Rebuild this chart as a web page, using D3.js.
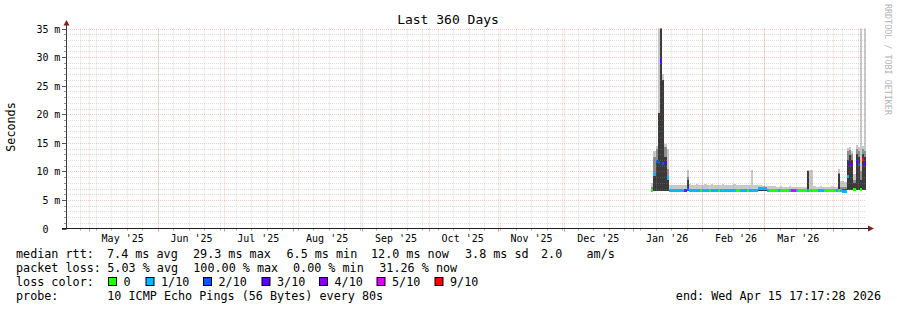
<!DOCTYPE html>
<html><head><meta charset="utf-8">
<script src="https://cdn.jsdelivr.net/npm/d3@7"></script>
<style>
html,body{margin:0;padding:0;background:#fff;}
svg{display:block;}
text{font-family:"DejaVu Sans Mono",monospace;white-space:pre;fill:#000;}
</style></head><body>
<svg id="chart" width="897" height="310"></svg>
<script>
// ---------- data ----------
const chartTitle = "Last 360 Days";
const yAxisTitle = "Seconds";
const credit = "RRDTOOL / TOBI OETIKER";
const yTickValues = [0, 5, 10, 15, 20, 25, 30, 35];
const yTickNumbers = ["0", "5", "10", "15", "20", "25", "30", "35"];
const yTickUnit = "m";
const startTime = "2025-04-20T17:17:28Z";
const endTime = "2026-04-15T17:17:28Z";
const dataStart = "2026-01-09T00:00:00Z"; // first day with measurements, one value per day after it

const medianMs = [
  6.7, 9.4, 11.8, 11.5, 29.2, 11.3, 11.5, 8.9, 6.7, 6.7,
  6.7, 6.7, 6.7, 6.7, 6.7, 6.7, 6.8, 6.7, 6.7, 6.7,
  6.7, 6.7, 6.7, 6.7, 6.7, 6.7, 6.7, 6.7, 6.7, 6.7,
  6.7, 6.7, 6.7, 6.7, 6.7, 6.7, 6.7, 6.7, 6.7, 6.7,
  6.7, 6.7, 6.7, 6.7, 6.7, 6.7, 6.7, 6.7, 7.0, 7.0,
  7.0, 7.0, 6.7, 6.7, 6.7, 6.7, 6.7, 6.7, 6.7, 6.7,
  6.7, 6.7, 6.7, 6.7, 6.7, 6.7, 6.7, 6.7, 6.7, 6.7,
  6.7, 6.7, 6.7, 6.7, 6.7, 6.7, 6.7, 6.7, 6.7, 6.7,
  6.7, 6.7, 6.7, 6.7, 6.7, 6.7, 6.5, 6.5, 9.1, 11.4,
  11.2, 6.9, 11.7, 11.2, 6.8, 12.1, 11.4
];
const lossCount = [
  0, 1, 2, 2, 3, 2, 3, 1, 1, 1,
  1, 1, 1, 1, 1, 4, 2, 1, 1, 1,
  1, 1, 0, 1, 1, 1, 0, 1, 1, 1,
  0, 1, 1, 1, 1, 1, 1, 1, 0, 0,
  1, 1, 1, 0, 1, 1, 1, 1, 1, 1,
  1, 1, 1, 0, 0, 0, 0, 1, 0, 0,
  0, 0, 1, 5, 5, 1, 0, 0, 0, 0,
  1, 0, 0, 0, 0, 1, 1, 1, 0, 0,
  0, 0, 0, 1, 0, 1, 1, 1, 1, 3,
  3, 0, 3, 2, 0, 9, 3
];
const smokeMin = [
  6.6, 6.6, 6.6, 6.6, 6.6, 6.6, 6.6, 6.6, 6.5, 6.5,
  6.5, 6.5, 6.5, 6.5, 6.5, 6.5, 6.5, 6.5, 6.5, 6.5,
  6.5, 6.5, 6.5, 6.5, 6.5, 6.5, 6.5, 6.5, 6.5, 6.5,
  6.5, 6.5, 6.5, 6.5, 6.5, 6.5, 6.5, 6.5, 6.5, 6.5,
  6.5, 6.5, 6.5, 6.5, 6.5, 6.5, 6.5, 6.5, 6.5, 6.5,
  6.5, 6.5, 6.5, 6.5, 6.5, 6.5, 6.5, 6.5, 6.5, 6.5,
  6.5, 6.5, 6.5, 6.5, 6.5, 6.5, 6.5, 6.5, 6.5, 6.5,
  6.5, 6.5, 6.5, 6.5, 6.5, 6.5, 6.5, 6.5, 6.5, 6.5,
  6.5, 6.5, 6.5, 6.5, 6.5, 6.5, 6.5, 6.5, 6.7, 6.7,
  6.7, 6.7, 6.7, 6.7, 6.7, 6.7, 6.7
];
// darkest smoke band (pings closest to the median)
const smokeDark = [
  6.9, 9.5, 12.0, 20.3, 40, 26, 12.5, 8.5, 6.9, 6.9,
  6.9, 6.9, 6.9, 6.9, 6.9, 6.9, 8.5, 6.9, 6.9, 6.9,
  6.9, 6.9, 6.9, 6.9, 6.9, 6.9, 6.9, 6.9, 6.9, 6.9,
  6.9, 6.9, 6.9, 6.9, 6.9, 6.9, 6.9, 6.9, 6.9, 6.9,
  6.9, 6.9, 6.9, 6.9, 6.9, 6.9, 6.9, 6.9, 6.9, 6.9,
  6.9, 6.9, 6.9, 6.9, 6.9, 6.9, 6.9, 6.9, 6.9, 6.9,
  6.9, 6.9, 6.9, 6.9, 6.9, 6.9, 6.9, 6.9, 6.9, 6.9,
  10.0, 6.9, 6.9, 6.9, 6.9, 6.9, 6.9, 6.9, 6.9, 6.9,
  6.9, 6.9, 6.9, 6.9, 9.5, 6.9, 6.9, 6.9, 12.0, 12.8,
  12.0, 8.0, 13.0, 12.5, 8.5, 13.0, 12.5
];
// middle smoke band
const smokeMid = [
  7.2, 12.5, 14.0, 14.3, 14.3, 14.3, 14.3, 10.5, 6.9, 6.9,
  6.9, 6.9, 6.9, 6.9, 6.9, 6.9, 9.0, 6.9, 6.9, 6.9,
  6.9, 6.9, 6.9, 6.9, 6.9, 6.9, 6.9, 6.9, 6.9, 6.9,
  6.9, 6.9, 6.9, 6.9, 6.9, 6.9, 6.9, 6.9, 6.9, 6.9,
  6.9, 6.9, 6.9, 6.9, 6.9, 6.9, 6.9, 6.9, 6.9, 6.9,
  6.9, 6.9, 6.9, 6.9, 6.9, 6.9, 6.9, 6.9, 6.9, 6.9,
  6.9, 6.9, 6.9, 6.9, 6.9, 6.9, 6.9, 6.9, 6.9, 6.9,
  10.0, 6.9, 6.9, 6.9, 6.9, 6.9, 6.9, 6.9, 6.9, 6.9,
  6.9, 6.9, 6.9, 6.9, 9.8, 7.2, 7.2, 7.2, 13.5, 13.8,
  13.0, 8.5, 14.0, 13.5, 10.0, 14.0, 13.5
];
// outer (lightest) smoke band: highest ping
const smokeMax = [
  7.9, 13.6, 14.5, 40, 40, 27, 14.8, 14.0, 7.6, 7.6,
  7.6, 7.7, 7.6, 7.6, 7.7, 7.6, 10.2, 7.8, 7.7, 7.7,
  7.8, 7.7, 7.7, 7.6, 7.8, 7.7, 7.7, 7.8, 7.7, 7.6,
  7.7, 7.7, 7.8, 7.7, 7.6, 7.7, 7.7, 7.8, 7.7, 7.7,
  7.6, 7.7, 7.7, 7.6, 7.7, 10.3, 7.6, 7.6, 7.6, 7.6,
  7.4, 7.4, 7.5, 7.4, 7.4, 7.4, 7.3, 7.3, 7.4, 7.3,
  7.3, 7.3, 7.4, 7.3, 7.3, 7.3, 7.3, 7.2, 7.3, 7.3,
  10.2, 10.3, 10.3, 7.4, 7.3, 7.3, 7.4, 7.3, 7.3, 7.3,
  7.3, 7.4, 7.3, 7.3, 10.4, 8.3, 8.3, 8.2, 14.1, 14.2,
  13.5, 9.5, 14.6, 14.3, 40, 14.5, 40
];
const lossLegendLabels = ["0", "1/10", "2/10", "3/10", "4/10", "5/10", "9/10"];
const lossLegendColors = ["#26ff00", "#00b8ff", "#0059ff", "#5e00ff", "#7e00ff", "#dd00ff", "#ff0000"];
const lossThresholds = [1, 2, 3, 4, 5, 6];
const rttLegend = ["median rtt:", "7.4 ms avg", "29.3 ms max", "6.5 ms min", "12.0 ms now", "3.8 ms sd", "2.0", "am/s"];
const lossLegend = ["packet loss:", "5.03 % avg", "100.00 % max", "0.00 % min", "31.26 % now"];
const lossColorTitle = "loss color:";
const probeLegend = ["probe:", "10 ICMP Echo Pings (56 Bytes) every 80s"];
const endLabel = "end: Wed Apr 15 17:17:28 2026";

// ---------- layout ----------
const W = 897, H = 310;
const P = {left: 66, right: 866, top: 28.5, bottom: 228.5};
const svg = d3.select("#chart");
svg.append("rect").attr("width", W).attr("height", H).attr("fill", "#fff");

const x = d3.scaleUtc().domain([new Date(startTime), new Date(endTime)]).range([P.left, P.right]);
const y = d3.scaleLinear().domain([0, 35]).range([P.bottom, P.top]);
const lossColor = d3.scaleThreshold().domain(lossThresholds).range(lossLegendColors);
const days = medianMs.map((_, i) => d3.utcDay.offset(new Date(dataStart), i));
const dx0 = i => x(days[i]);
const dw = i => x(d3.utcDay.offset(days[i], 1)) - x(days[i]);

svg.append("defs").append("clipPath").attr("id", "clip")
  .append("rect").attr("x", P.left).attr("y", P.top)
  .attr("width", P.right - P.left).attr("height", P.bottom - P.top);

// smoke
const g = svg.append("g").attr("clip-path", "url(#clip)");
[[smokeMax, "#c9c9c9"], [smokeMid, "#8e8e8e"], [smokeDark, "#3a3a3a"]].forEach(([arr, col]) => {
  g.append("g").selectAll("rect").data(arr).join("rect")
    .attr("x", (d, i) => dx0(i)).attr("width", (d, i) => dw(i))
    .attr("y", d => y(d)).attr("height", (d, i) => Math.max(0, y(smokeMin[i]) - y(d)))
    .attr("fill", col).attr("shape-rendering", "crispEdges");
});
// median colored by loss
g.append("g").selectAll("rect").data(medianMs).join("rect")
  .attr("x", (d, i) => dx0(i)).attr("width", (d, i) => dw(i))
  .attr("y", d => y(d) - 1.5).attr("height", 3)
  .attr("fill", (d, i) => lossColor(lossCount[i])).attr("shape-rendering", "crispEdges");

// grid (drawn on top like rrdtool, semi transparent)
const grid = svg.append("g").attr("stroke-dasharray", "1,1").attr("stroke-width", 1);
const px = v => Math.round(v) + 0.5;
const minorCol = "rgba(143,143,143,0.3)";
const majorCol = "rgba(222,79,79,0.3)";
const minorY = d3.range(1, 35).filter(v => v % 5 !== 0);
grid.selectAll(".hmin").data(minorY).join("line")
  .attr("x1", P.left).attr("x2", P.right).attr("y1", d => px(y(d))).attr("y2", d => px(y(d)))
  .attr("stroke", minorCol);
const weeks = d3.utcSunday.range(new Date(startTime), new Date(endTime));
grid.selectAll(".vmin").data(weeks).join("line")
  .attr("y1", P.top).attr("y2", P.bottom).attr("x1", d => px(x(d))).attr("x2", d => px(x(d)))
  .attr("stroke", minorCol);
const majorY = yTickValues.filter(v => v > 0);
grid.selectAll(".hmaj").data(majorY).join("line")
  .attr("x1", P.left).attr("x2", P.right).attr("y1", d => px(y(d))).attr("y2", d => px(y(d)))
  .attr("stroke", majorCol);
const months = d3.utcMonth.range(new Date(startTime), new Date(endTime));
grid.selectAll(".vmaj").data(months).join("line")
  .attr("y1", P.top).attr("y2", P.bottom).attr("x1", d => px(x(d))).attr("x2", d => px(x(d)))
  .attr("stroke", majorCol);

// axis ticks
const ax = svg.append("g");
ax.selectAll(".tw").data(weeks).join("line")
  .attr("x1", d => px(x(d))).attr("x2", d => px(x(d))).attr("y1", P.bottom).attr("y2", P.bottom + 2)
  .attr("stroke", "#aaa");
ax.selectAll(".tm").data(months).join("line")
  .attr("x1", d => px(x(d))).attr("x2", d => px(x(d))).attr("y1", P.bottom).attr("y2", P.bottom + 3)
  .attr("stroke", "#e89090");
ax.selectAll(".tyn").data(d3.range(0, 36)).join("line")
  .attr("x1", d => d % 5 === 0 ? 62 : 64).attr("x2", P.left)
  .attr("y1", d => px(y(d))).attr("y2", d => px(y(d))).attr("stroke", d => d % 5 === 0 ? "#555" : "#999");

// axis lines and arrows
svg.append("line").attr("x1", 66.5).attr("x2", 66.5).attr("y1", P.bottom + 1).attr("y2", 24).attr("stroke", "#3a3a3a");
svg.append("line").attr("x1", 62).attr("x2", 869).attr("y1", 228.5).attr("y2", 228.5).attr("stroke", "#1f1f1f");
svg.append("path").attr("d", "M63.5,25.5L69.5,25.5L66.5,20Z").attr("fill", "#802020");
svg.append("path").attr("d", "M868,225.5L868,231.5L874,228.5Z").attr("fill", "#802020");

// x labels via d3 axis (month label centred mid-month)
const labelDates = d3.utcMonth.range(d3.utcMonth.floor(new Date(startTime)), new Date(endTime))
  .map(d => d3.utcDay.offset(d, 15))
  .filter(d => d > new Date(startTime) && d < new Date(endTime));
const xAxis = d3.axisBottom(x).tickValues(labelDates).tickFormat(d3.utcFormat("%b '%y")).tickSize(0).tickPadding(6);
const xa = svg.append("g").attr("transform", `translate(0,${P.bottom})`).call(xAxis);
xa.select(".domain").remove();
xa.selectAll("text").attr("font-family", "DejaVu Sans Mono").attr("font-size", "10px").attr("fill", "#000");

// y labels
const yl = svg.append("g").attr("font-size", "10px");
yl.selectAll(".yn").data(yTickValues).join("text")
  .attr("x", 48.5).attr("y", d => px(y(d)) + 3.5).attr("text-anchor", "end")
  .text((d, i) => yTickNumbers[i]);
yl.selectAll(".yu").data(yTickValues.filter(v => v > 0)).join("text")
  .attr("x", 54.2).attr("y", d => px(y(d)) + 3.5).text(yTickUnit);

// titles
svg.append("text").attr("x", 448).attr("y", 24).attr("text-anchor", "middle").attr("font-size", "13px").text(chartTitle);
svg.append("text").attr("transform", "translate(15,127) rotate(-90)").attr("text-anchor", "middle")
  .attr("font-size", "11.75px").text(yAxisTitle);
svg.append("text").attr("transform", "translate(884.5,4) rotate(90)").attr("font-size", "8.4px")
  .style("fill", "#b4b4b4").text(credit);

// legend
const lg = svg.append("g").attr("font-size", "11.75px");
const rttX = [16, 107, 193, 286.5, 371, 465, 541, 586.5];
rttLegend.forEach((t, i) => lg.append("text").attr("x", rttX[i]).attr("y", 257.5).text(t));
const lossX = [16, 107.3, 193.3, 293, 379.3];
lossLegend.forEach((t, i) => lg.append("text").attr("x", lossX[i]).attr("y", 271.5).text(t));
lg.append("text").attr("x", 16).attr("y", 285.5).text(lossColorTitle);
const boxX = [108.5, 146, 203.5, 262, 319.5, 377, 435];
lossLegendLabels.forEach((t, i) => {
  lg.append("rect").attr("x", boxX[i]).attr("y", 277.5).attr("width", 8).attr("height", 8)
    .attr("fill", lossLegendColors[i]).attr("stroke", "#000").attr("stroke-width", 1);
  lg.append("text").attr("x", boxX[i] + 15).attr("y", 285.5).text(t);
});
lg.append("text").attr("x", 16).attr("y", 299.5).text(probeLegend[0]);
lg.append("text").attr("x", 107.3).attr("y", 299.5).text(probeLegend[1]);
lg.append("text").attr("x", 881).attr("y", 299.5).attr("text-anchor", "end").text(endLabel);
</script>
</body></html>
